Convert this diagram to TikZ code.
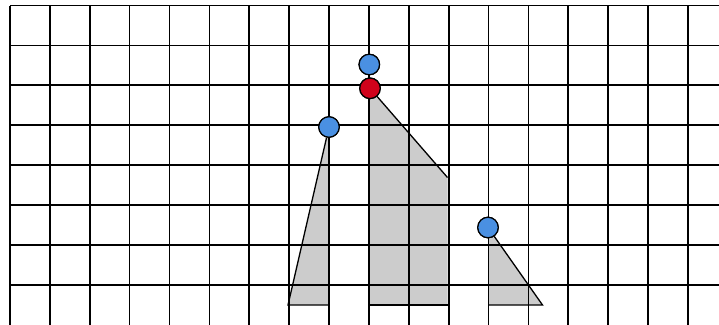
\documentclass[tikz,border=0pt]{standalone}
\definecolor{ptblue}{HTML}{4A90E2}
\definecolor{ptred}{HTML}{D0021B}
\definecolor{shade}{HTML}{CCCCCC}
\tikzset{
  gridline/.style={black, line width=1.7pt},
  edge/.style={black, line width=1.3pt},
  region/.style={fill=shade, draw=none},
  bluept/.style={circle, fill=ptblue, draw=black, line width=1.2pt, minimum size=20.5pt, inner sep=0pt},
  redpt/.style={circle, fill=ptred, draw=black, line width=1.2pt, minimum size=20.5pt, inner sep=0pt},
}
\begin{document}
\begin{tikzpicture}[x=1pt, y=-1pt]
\useasboundingbox (0,0) rectangle (719,324);
\fill[white] (0,0) rectangle (719,324);
% shaded regions
\fill[region] (329,127) -- (288,305) -- (329,305) -- cycle;
\fill[region] (370,88) -- (447.5,177.5) -- (447.5,305) -- (370,305) -- cycle;
\fill[region] (488,227) -- (542.5,305) -- (488,305) -- cycle;
% grid
\begin{scope}
\clip (0,0) rectangle (719,324);
\foreach \i in {0,...,18} {
  \draw[gridline] ({10+\i*39.88},5.5) -- ({10+\i*39.88},330);
}
\foreach \j in {0,...,7} {
  \draw[gridline] (10,{5.5+\j*39.88}) -- (725,{5.5+\j*39.88});
}
\end{scope}
% points
\node[bluept] (b1) at (369.3,64.5) {};
\node[redpt] (r1) at (370,88.3) {};
\node[bluept] (b2) at (329,127) {};
\node[bluept] (b3) at (488,227.5) {};
\coordinate (p1) at (288,305);
\coordinate (p1r) at (329,305);
\coordinate (p2) at (447.5,177.5);
\coordinate (p2l) at (370,305);
\coordinate (p2r) at (447.5,305);
\coordinate (p3) at (542.5,305);
\coordinate (p3l) at (488,305);
% outlines
\draw[edge] (b2) -- (p1) -- (p1r);
\draw[edge] (r1) -- (p2);
\draw[edge] (p2l) -- (p2r);
\draw[edge] (b3) -- (p3) -- (p3l);
% redraw points on top
\node[bluept] at (b1) {};
\node[redpt] at (r1) {};
\node[bluept] at (b2) {};
\node[bluept] at (b3) {};
\end{tikzpicture}
\end{document}
